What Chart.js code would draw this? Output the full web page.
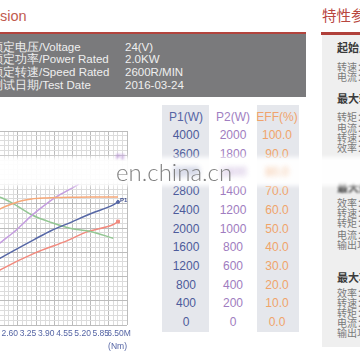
<!DOCTYPE html>
<html><head><meta charset="utf-8">
<script src="https://cdn.jsdelivr.net/npm/chart.js@4.4.0/dist/chart.umd.min.js"></script>
<style>
html,body{margin:0;padding:0;background:#fff;}
body{width:360px;height:360px;position:relative;overflow:hidden;font-family:"Liberation Sans",Arial,sans-serif;}
.abs{position:absolute;white-space:nowrap;}
#title{left:0;top:6px;font-size:14.5px;line-height:20px;color:#c25b4f;}
#redline{left:0;top:32px;width:306px;height:2px;background:#b3443d;}
#graybox{left:0;top:34px;width:306px;height:63px;background:#7a7a7c;}
.spec{font-size:11.5px;color:#efefef;line-height:12.7px;top:40.5px;}
.colbg{background:#e5e7ec;top:105px;height:227px;}
.cell{position:absolute;width:50px;text-align:center;font-size:12px;line-height:16px;white-space:nowrap;}
#band{left:-20px;top:157px;width:400px;height:29px;background:rgba(255,255,255,0.94);filter:blur(2px);z-index:5;}
#wm{left:116px;top:158px;font-family:Lato,"Open Sans",sans-serif;font-weight:300;font-size:24px;line-height:28px;color:#808080;z-index:7;}
#p2lab{left:116px;top:153px;font-size:7px;font-weight:bold;color:#b58ad6;filter:blur(1px);z-index:6;}
#rtitle{left:322px;top:5px;font-family:"Noto Sans CJK SC",sans-serif;font-size:14.5px;line-height:20px;color:#b8473f;}
#rline{left:321px;top:32px;width:40px;height:2.5px;background:#b0403a;}
#rpanel{left:322px;top:35px;width:40px;height:312px;background:#efefef;}
.ri{position:absolute;left:337px;font-family:"Noto Sans CJK SC",sans-serif;font-size:10px;line-height:12px;color:#7a7a7a;white-space:nowrap;}
.rh{font-size:11px;font-weight:bold;color:#3a3a3a;}
#chartbox{position:absolute;left:-58px;top:128px;width:195px;height:224px;}
</style></head>
<body>
<div id="title" class="abs">sion</div>
<div id="redline" class="abs"></div>
<div id="graybox" class="abs"></div>
<div class="abs spec" style="left:-9px">额定电压/Voltage<br>额定功率/Power Rated<br>额定转速/Speed Rated<br>测试日期/Test Date</div>
<div class="abs spec" style="left:125px">24(V)<br>2.0KW<br>2600R/MIN<br>2016-03-24</div>

<div class="abs colbg" style="left:162px;width:47px"></div>
<div class="abs colbg" style="left:257px;width:42px"></div>
<div id="table"></div>

<div id="chartbox"><canvas id="c" width="195" height="224"></canvas></div>

<div id="rtitle" class="abs">特性参数</div>
<div id="rline" class="abs"></div>
<div id="rpanel" class="abs"></div>
<div id="rtext"></div>

<div id="band" class="abs"></div>
<div id="p2lab" class="abs">P2</div>
<div id="wm" class="abs">en.china.cn</div>

<script>
// ---- data ----
// Torque (Nm) positions and values for each curve
const torqueEff   = [1.86, 2.04, 2.39, 2.74, 3.09, 3.62, 4.15, 5.20, 6.18];
const effPercent  = [58.9, 60.4, 62.4, 64.0, 65.0, 65.5, 65.7, 66.0, 66.0];
const torqueP2    = [1.86, 2.04, 2.57, 3.09, 3.62, 3.97, 4.60, 4.78];
const p2Watts     = [822, 863, 985, 1127, 1249, 1320, 1422, 1452];
const torqueP1    = [1.86, 2.04, 3.20, 3.80, 4.39, 5.20, 6.01, 6.18];
const p1Watts     = [1340, 1401, 1767, 1949, 2091, 2294, 2477, 2538];
const torqueSpeed = [1.86, 2.04, 2.39, 3.09, 3.80, 4.50, 5.20, 6.01];
const speedRpm    = [2660, 2619, 2518, 2274, 2112, 1990, 1929, 1787];
const torqueCur   = [1.86, 2.04, 3.20, 4.39, 5.02, 6.01, 6.18];
const currentAmp  = [54.8, 57.9, 74.1, 87.3, 95.5, 103.6, 106.6];

// tick labels
const torqueTicks = ['2.60', '3.25', '3.90', '4.55', '5.20', '5.85', '6.50M'];
const p1Ticks  = [4000, 3600, 3200, 2800, 2400, 2000, 1600, 1200, 800, 400, 0];
const p2Ticks  = [2000, 1800, 1600, 1400, 1200, 1000, 800, 600, 400, 200, 0];
const effTicks = ['100.0', '90.0', '80.0', '70.0', '60.0', '50.0', '40.0', '30.0', '20.0', '10.0', '0.0'];
const specRows = ['起始点', '转速：', '电流：', '最大转矩点', '转矩：', '电流：', '转速：', '效率：',
                  '最大效率点', '效率：', '转速：', '转矩：', '电流：', '输出功率：',
                  '最大功率点', '效率：', '转速：', '转矩：', '电流：', '输出功率：'];

// ---- side table ----
const tbl = document.getElementById('table');
function cell(txt, cx, cy, color, extra) {
  const d = document.createElement('div');
  d.className = 'cell';
  d.textContent = txt;
  d.style.left = (cx - 25) + 'px';
  d.style.top = (cy - 8) + 'px';
  d.style.color = color;
  if (extra) Object.assign(d.style, extra);
  tbl.appendChild(d);
}
cell('P1(W)', 186, 117, '#5565a5');
cell('P2(W)', 233, 117, '#a17fc2');
cell('EFF(%)', 277, 117, '#f0a36c');
p1Ticks.forEach((v, i) => {
  const cy = 135 + i * 18.7;
  const blur = i === 2 ? {filter: 'blur(2.5px)', zIndex: 6, opacity: 0.7} : null;
  cell(String(v), 186, cy, '#4d5b9b', blur);
  cell(String(p2Ticks[i]), 233, cy, '#a07cc0', blur);
  cell(effTicks[i], 277, cy, '#f0a46a', blur);
});

// ---- right panel ----
const rtext = document.getElementById('rtext');
const rowY = [47, 67, 77, 98, 117, 128, 138, 148, 187, 203, 213, 223, 235, 245, 277, 293, 303, 313, 323, 333];
specRows.forEach((t, i) => {
  const d = document.createElement('div');
  d.className = 'ri' + ((i === 0 || i === 3 || i === 8 || i === 14) ? ' rh' : '');
  d.textContent = t;
  d.style.top = (rowY[i] - 6) + 'px';
  if (i === 8) d.style.filter = 'blur(0.8px)';
  rtext.appendChild(d);
});

// ---- chart ----
const pts = (xs, ys, k) => xs.map((x, i) => ({x: x, y: ys[i] * k}));
const lastOnly = r => (ctx) => ctx.dataIndex === ctx.dataset.data.length - 1 ? r : 0;

const endLabels = {
  id: 'endLabels',
  afterDatasetsDraw(chart) {
    const ctx = chart.ctx;
    const meta = chart.getDatasetMeta(2);
    const p = meta.data[meta.data.length - 1];
    ctx.save();
    ctx.font = 'bold 6px "Liberation Sans", Arial';
    ctx.fillStyle = '#3d4d8d';
    ctx.textAlign = 'left';
    ctx.textBaseline = 'middle';
    ctx.fillText('P1', p.x + 2, p.y - 2);
    ctx.restore();
  }
};

const isMajor = (v, step) => Math.abs(v / step - Math.round(v / step)) < 1e-6;

new Chart(document.getElementById('c'), {
  type: 'line',
  data: {
    datasets: [
      {label: 'EFF', data: pts(torqueEff, effPercent, 40), borderColor: '#f6a878', backgroundColor: '#f6a878'},
      {label: 'P2', data: pts(torqueP2, p2Watts, 2), borderColor: '#c49ddf', backgroundColor: '#c49ddf'},
      {label: 'P1', data: pts(torqueP1, p1Watts, 1), borderColor: '#5667a6', backgroundColor: '#5667a6', pointRadius: lastOnly(1.5)},
      {label: 'n', data: pts(torqueSpeed, speedRpm, 1), borderColor: '#93c793', backgroundColor: '#93c793'},
      {label: 'I', data: pts(torqueCur, currentAmp, 20), borderColor: '#f28a7e', backgroundColor: '#f28a7e', pointRadius: lastOnly(2), pointStyle: 'rect'}
    ]
  },
  options: {
    responsive: false,
    animation: false,
    devicePixelRatio: 1,
    layout: {padding: {top: 0, right: 10, left: 0, bottom: 0}},
    elements: {
      line: {borderWidth: 1.5, cubicInterpolationMode: 'monotone'},
      point: {radius: 0, hoverRadius: 0}
    },
    plugins: {legend: {display: false}, tooltip: {enabled: false}},
    scales: {
      x: {
        type: 'linear', min: 0, max: 6.5,
        afterFit(scale) { scale.paddingLeft = 0; scale.paddingRight = 0; scale.height = 27; },
        ticks: {
          stepSize: 0.1625, autoSkip: false, maxRotation: 0, padding: 4, labelOffset: -8,
          color: '#5464a4',
          font: {family: '"Liberation Sans Narrow", "Liberation Sans", Arial', size: 8.5},
          callback(v) {
            if (!isMajor(v, 0.65)) return '';
            const k = Math.round(v / 0.65) - 4;
            return (k >= 0 && k < torqueTicks.length) ? torqueTicks[k] : '';
          }
        },
        grid: {
          drawTicks: false,
          color: (c) => isMajor(c.tick.value, 0.65) ? '#bcbcbc' : '#dcdcdc',
          lineWidth: 1
        },
        border: {display: false},
        title: {display: true, text: '(Nm)', align: 'end', color: '#5464a4',
                font: {family: '"Liberation Sans Narrow", "Liberation Sans", Arial', size: 8.5},
                padding: {top: 2, bottom: 0}}
      },
      y: {
        min: 0, max: 4000,
        ticks: {display: false, stepSize: 100},
        grid: {
          drawTicks: false,
          color: (c) => isMajor(c.tick.value, 500) ? '#bcbcbc' : '#dcdcdc',
          lineWidth: 1
        },
        border: {display: false}
      }
    }
  },
  plugins: [endLabels]
});
</script>
</body></html>
